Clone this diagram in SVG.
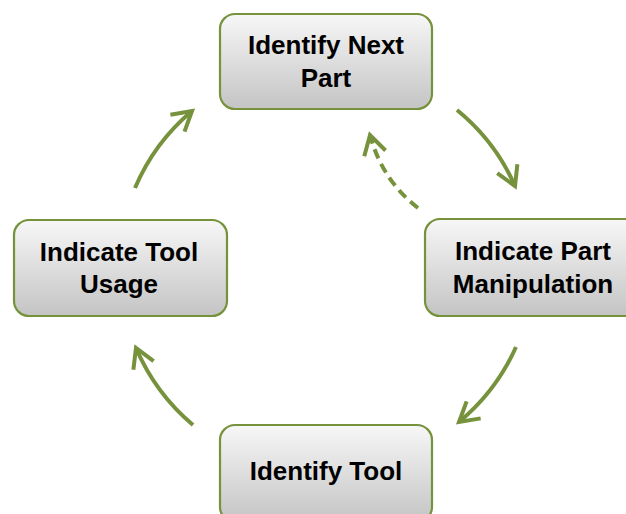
<svg xmlns="http://www.w3.org/2000/svg" width="626" height="514" viewBox="0 0 626 514">
  <defs>
    <linearGradient id="boxGrad" x1="0" y1="0" x2="0" y2="1">
      <stop offset="0" stop-color="#f7f7f7"/>
      <stop offset="1" stop-color="#c4c4c4"/>
    </linearGradient>
    <marker id="head" markerUnits="userSpaceOnUse" orient="auto" viewBox="-30 -20 40 40" refX="0" refY="0" markerWidth="40" markerHeight="40" overflow="visible">
      <path d="M-19,-11 L0,0 L-19,11" fill="none" stroke="#76923c" stroke-width="4"/>
    </marker>
    <style>
      .box { fill: url(#boxGrad); stroke: #76923c; stroke-width: 2.2; }
      .lbl { font-family: "Liberation Sans", Arial, sans-serif; font-weight: bold; font-size: 26px; fill: #000; text-anchor: middle; }
      .arc { fill: none; stroke: #76923c; stroke-width: 4; marker-end: url(#head); }
      .dash { stroke-dasharray: 10 6; stroke-width: 4; }
    </style>
  </defs>
  <rect width="626" height="514" fill="#ffffff"/>

  <g id="node-identify-next-part">
    <rect class="box" x="220" y="14" width="212" height="95" rx="15"/>
    <text class="lbl" x="326" y="54">Identify Next</text>
    <text class="lbl" x="326" y="87">Part</text>
  </g>
  <g id="node-indicate-part-manipulation">
    <rect class="box" x="425" y="219" width="216" height="97" rx="15"/>
    <text class="lbl" x="533" y="260">Indicate Part</text>
    <text class="lbl" x="533" y="293">Manipulation</text>
  </g>
  <g id="node-identify-tool">
    <rect class="box" x="220" y="425" width="212" height="97" rx="15"/>
    <text class="lbl" x="326" y="480">Identify Tool</text>
  </g>
  <g id="node-indicate-tool-usage">
    <rect class="box" x="14" y="220" width="213" height="96" rx="15"/>
    <text class="lbl" x="119" y="261">Indicate Tool</text>
    <text class="lbl" x="119" y="293">Usage</text>
  </g>

  <g id="connectors">
    <path class="arc" d="M457,110 A205,205 0 0 1 515,186"/>
    <path class="arc" d="M516,347 A207,207 0 0 1 459,422"/>
    <path class="arc" d="M193,425 A208,208 0 0 1 136,348"/>
    <path class="arc" d="M135,188 A205,205 0 0 1 192,111"/>
    <path class="arc dash" d="M418,208 Q382,180 370,135"/>
  </g>
</svg>
